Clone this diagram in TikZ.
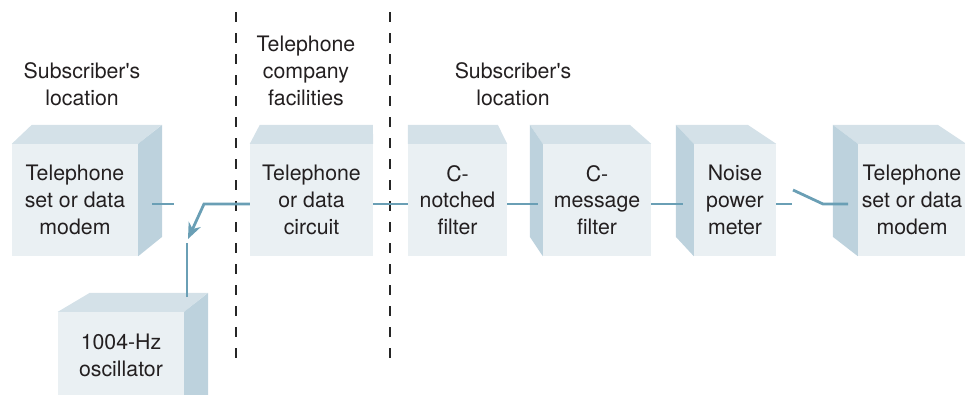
\documentclass[tikz,border=0pt]{standalone}
\usepackage{fontspec}
\setmainfont{TeX Gyre Heros}
\usetikzlibrary{arrows.meta}
\definecolor{frontc}{HTML}{EAF0F3}
\definecolor{topc}{HTML}{D4E1E8}
\definecolor{sidec}{HTML}{BDD2DD}
\definecolor{wirec}{HTML}{6A9FB5}
\definecolor{txtc}{HTML}{231F20}
\tikzset{
  front/.style={fill=frontc, draw=none, inner sep=0pt, minimum height=112pt, align=center,
    text=txtc, font=\fontsize{21.3}{26.8}\selectfont},
  topface/.style={fill=topc, draw=none},
  sideface/.style={fill=sidec, draw=none},
  wire/.style={draw=wirec, line width=2.8pt},
  divider/.style={draw=black!85, line width=1.3pt, dash pattern=on 10pt off 11pt},
  label/.style={align=center, text=txtc, font=\fontsize{21.3}{26.8}\selectfont}
}
\begin{document}
\begin{tikzpicture}[x=1pt,y=-1pt]
\useasboundingbox (0,0) rectangle (965,394);
\clip (0,0) rectangle (965,394);
% dividers
\coordinate (d1t) at (236,12); \coordinate (d1b) at (236,364);
\coordinate (d2t) at (390,12); \coordinate (d2b) at (390,364);
\draw[divider] (d1t) -- (d1b);
\draw[divider] (d2t) -- (d2b);
% headers
\node[label] (h1) at (82,84) {Subscriber\textquotesingle s\\location};
\node[label] (h2) at (306,71) {Telephone\\company\\facilities};
\node[label] (h3) at (513,84) {Subscriber\textquotesingle s\\location};
% box 1
\node[front, minimum width=126pt] (b1) at (75,200) {Telephone\\set or data\\modem};
\fill[topface] (b1.north west) -- ++(20,-19) -- ++(130,0) -- (b1.north east) -- cycle;
\fill[sideface] (b1.north east) -- ++(24,-19) -- ++(0,112) -- (b1.south east) -- cycle;
% box 2
\node[front, minimum width=123pt] (b2) at (311.5,200) {Telephone\\or data\\circuit};
\fill[topface] (b2.north west) -- ++(10,-19) -- ++(113,0) -- (b2.north east) -- cycle;
% box 3
\node[front, minimum width=99pt] (b3) at (457.5,200) {C-\\notched\\filter};
\fill[topface] (b3.north west) -- ++(0,-19) -- ++(90,0) -- (b3.north east) -- cycle;
% box 4
\node[front, minimum width=108pt] (b4) at (597,200) {C-\\message\\filter};
\fill[topface] (b4.north west) -- ++(-13,-19) -- ++(100,0) -- (b4.north east) -- cycle;
\fill[sideface] (b4.north west) -- ++(-13,-19) -- ++(0,112) -- (b4.south west) -- cycle;
% box 5
\node[front, minimum width=82pt] (b5) at (735,200) {Noise\\power\\meter};
\fill[topface] (b5.north west) -- ++(-18,-19) -- ++(72,0) -- (b5.north east) -- cycle;
\fill[sideface] (b5.north west) -- ++(-18,-19) -- ++(0,112) -- (b5.south west) -- cycle;
% box 6
\node[front, minimum width=108pt] (b6) at (912,200) {Telephone\\set or data\\modem};
\fill[topface] (b6.north west) -- ++(-25,-19) -- ++(105,0) -- (b6.north east) -- cycle;
\fill[sideface] (b6.north west) -- ++(-25,-19) -- ++(0,112) -- (b6.south west) -- cycle;
% oscillator
\node[front, minimum width=126pt, minimum height=86pt] (osc) at (121,355) {1004-Hz\\oscillator};
\fill[frontc] (osc.south west) rectangle ++(126,50);
\fill[topface] (osc.north west) -- ++(32,-19) -- ++(118,0) -- (osc.north east) -- cycle;
\fill[sideface] (osc.north east) -- ++(24,-19) -- ++(0,140) -- ++(-24,19) -- cycle;
% wire coordinates
\coordinate (lvl) at (0,204);
\coordinate (s1a) at (152,204);
\coordinate (s1b) at (174,204);
\coordinate (sw) at (204,204);
\coordinate (tip) at (188,239);
\coordinate (ov) at (187,243);
\coordinate (ot) at (187,297);
\coordinate (w3) at (538,204);
\coordinate (w4) at (683,204);
\coordinate (w5) at (792,204);
\coordinate (r1) at (793,190);
\coordinate (r2) at (823,204);
\coordinate (r3) at (848,204);
% wires
\draw[wire] (s1a) -- (s1b);
\draw[wire, -{Stealth[length=16pt,width=13pt,inset=5pt]}] (b2.west |- lvl) -- (sw) -- (tip);
\draw[wire] (ot) -- (ov);
\draw[wire] (b2.east |- lvl) -- (b3.west |- lvl);
\draw[wire] (b3.east |- lvl) -- (w3);
\draw[wire] (b4.east |- lvl) -- (w4);
\draw[wire] (b5.east |- lvl) -- (w5);
\draw[wire] (r1) -- (r2) -- (r3);
\end{tikzpicture}
\end{document}
